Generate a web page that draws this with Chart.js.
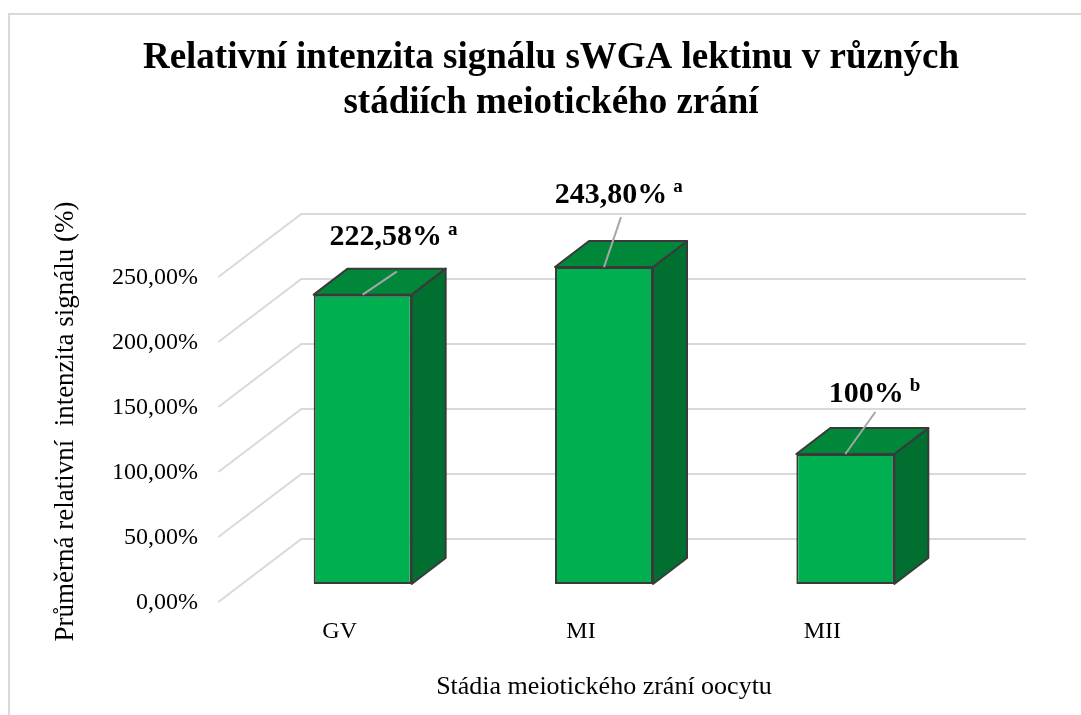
<!DOCTYPE html>
<html><head><meta charset="utf-8">
<script src="https://cdn.jsdelivr.net/npm/chart.js@4.4.1/dist/chart.umd.min.js"></script>
<style>
html,body{margin:0;padding:0;background:#fff;overflow:hidden;width:1081px;height:715px}
#frame{position:absolute;left:8px;top:13px;width:1200px;height:800px;border:2px solid #d9d9d9;box-sizing:border-box}
canvas{position:absolute;left:0;top:0}
</style></head><body>
<div id="frame"></div>
<canvas id="c" width="1102" height="715"></canvas>
<script>
// ---- data ----
const categories = ['GV', 'MI', 'MII'];
const values = [222.58, 243.80, 100];
const valueLabels = ['222,58%', '243,80%', '100%'];
const significance = ['a', 'a', 'b'];
const yTickValues = [0, 50, 100, 150, 200, 250];
const yTickLabels = ['0,00%', '50,00%', '100,00%', '150,00%', '200,00%', '250,00%'];
const chartTitle = ['Relativní intenzita signálu sWGA lektinu v různých', 'stádiích meiotického zrání'];
const xTitle = 'Stádia meiotického zrání oocytu';
const yTitle = 'Průměrná relativní  intenzita signálu (%)';

// ---- style / geometry ----
const FRONT_SHIFT = {x: -23.7, y: 18};
const FLOOR_DEPTH = {x: 83, y: -63};
const BAR_DEPTH = {x: 34, y: -26};
const WALL_RIGHT = 1026;
const labelPlacement = [
  {tx: 23, ty: -57, lx: 34, ly: -23},
  {tx: 7, ty: -72, lx: 17, ly: -50},
  {tx: 21, ty: -60, lx: 30, ly: -42}
];
const FONT = 'Liberation Serif';

const threeD = {
  id: 'threeD',
  beforeDatasetsDraw(chart) {
    const {ctx, chartArea, scales: {y}} = chart;
    ctx.save();
    ctx.strokeStyle = '#d9d9d9';
    ctx.lineWidth = 2;
    y.ticks.forEach(t => {
      const py = y.getPixelForValue(t.value);
      const fx = chartArea.left + FRONT_SHIFT.x, fy = py + FRONT_SHIFT.y;
      const bx = fx + FLOOR_DEPTH.x, by = fy + FLOOR_DEPTH.y;
      ctx.beginPath();
      ctx.moveTo(fx, fy); ctx.lineTo(bx, by); ctx.lineTo(WALL_RIGHT, by);
      ctx.stroke();
    });
    ctx.restore();
  },
  afterDatasetsDraw(chart) {
    const {ctx} = chart;
    const meta = chart.getDatasetMeta(0);
    ctx.save();
    ctx.lineJoin = 'round';
    meta.data.forEach((bar, i) => {
      const {x, y, base, width} = bar.getProps(['x', 'y', 'base', 'width'], true);
      const x0 = x - width / 2, x1 = x + width / 2;
      const dx = BAR_DEPTH.x, dy = BAR_DEPTH.y;
      ctx.strokeStyle = '#3a3a3a';
      ctx.lineWidth = 2;
      // side
      ctx.beginPath();
      ctx.moveTo(x1, y); ctx.lineTo(x1 + dx, y + dy); ctx.lineTo(x1 + dx, base + dy); ctx.lineTo(x1, base);
      ctx.closePath();
      ctx.fillStyle = '#006F30'; ctx.fill(); ctx.stroke();
      // top
      ctx.beginPath();
      ctx.moveTo(x0, y); ctx.lineTo(x0 + dx, y + dy); ctx.lineTo(x1 + dx, y + dy); ctx.lineTo(x1, y);
      ctx.closePath();
      ctx.fillStyle = '#00873A'; ctx.fill(); ctx.stroke();
      // leader line
      const p = labelPlacement[i];
      ctx.strokeStyle = '#a6a6a6';
      ctx.lineWidth = 2;
      ctx.beginPath();
      ctx.moveTo(x, y); ctx.lineTo(x + p.lx, y + p.ly);
      ctx.stroke();
      // label
      ctx.fillStyle = '#000';
      ctx.font = 'bold 30px "' + FONT + '"';
      ctx.textAlign = 'center';
      ctx.textBaseline = 'middle';
      const cx = x + p.tx, cy = y + p.ty;
      ctx.fillText(valueLabels[i], cx, cy);
      const w = ctx.measureText(valueLabels[i]).width;
      ctx.font = 'bold 19px "' + FONT + '"';
      ctx.textAlign = 'left';
      ctx.fillText(significance[i], cx + w / 2 + 6, cy - 8);
    });
    ctx.restore();
  }
};

Chart.defaults.font.family = FONT;
Chart.defaults.color = '#000';

new Chart(document.getElementById('c'), {
  type: 'bar',
  data: {
    labels: categories,
    datasets: [{
      data: values,
      backgroundColor: '#00B050',
      borderColor: '#3a3a3a',
      borderWidth: 2,
      borderSkipped: false,
      categoryPercentage: 1,
      barPercentage: 0.406
    }]
  },
  options: {
    responsive: false,
    animation: false,
    devicePixelRatio: 1,
    layout: {padding: 0},
    plugins: {
      legend: {display: false},
      tooltip: {enabled: false},
      title: {
        display: true,
        text: chartTitle,
        color: '#000',
        font: {family: FONT, size: 37, weight: 'bold', lineHeight: 45 / 37},
        padding: {top: 35.5, bottom: 133.5}
      }
    },
    scales: {
      x: {
        grid: {display: false, drawTicks: false},
        border: {display: false},
        ticks: {font: {size: 24}, padding: 33.6, labelOffset: -23, color: '#000'},
        title: {display: true, text: xTitle, font: {size: 26}, color: '#000', padding: {top: 0, bottom: 12.4}},
        afterFit: s => { s.height = 131; }
      },
      y: {
        min: 0, max: 250,
        afterBuildTicks: s => { s.ticks = yTickValues.map(v => ({value: v})); },
        grid: {display: false, drawTicks: false},
        border: {display: false},
        ticks: {
          font: {size: 24}, padding: 44, labelOffset: 19, color: '#000',
          callback: (v) => yTickLabels[yTickValues.indexOf(v)]
        },
        title: {display: true, text: yTitle, font: {size: 27}, color: '#000', padding: {top: 49.8, bottom: 0}},
        afterFit: s => { s.width = 242; }
      },
      yR: {
        position: 'right',
        min: 0, max: 1,
        grid: {display: false, drawTicks: false},
        border: {display: false},
        ticks: {display: false},
        afterFit: s => { s.width = 136; }
      }
    }
  },
  plugins: [threeD]
});
</script>
</body></html>
